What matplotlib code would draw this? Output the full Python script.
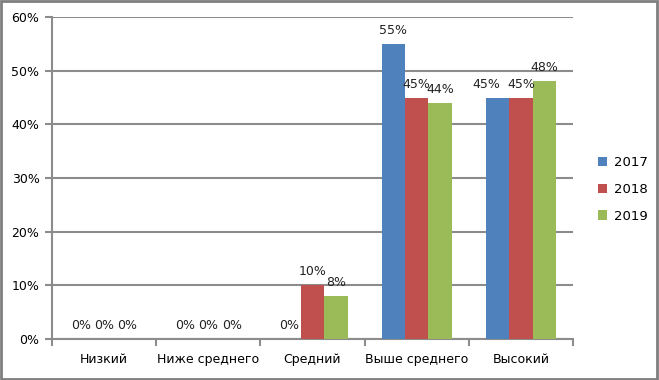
import numpy as np
import matplotlib.pyplot as plt
from matplotlib.patches import Rectangle

categories = ["Низкий", "Ниже среднего", "Средний", "Выше среднего", "Высокий"]
years = ["2017", "2018", "2019"]
values_2017 = [0, 0, 0, 55, 45]
values_2018 = [0, 0, 10, 45, 45]
values_2019 = [0, 0, 8, 44, 48]
colors = ['#4F81BD', '#C0504D', '#9BBB59']

plt.rcParams['font.family'] = ['DejaVu Sans']
fig = plt.figure(figsize=(6.59, 3.8), dpi=100)
ax = fig.add_axes([52 / 659, 1 - 339 / 380, (573 - 52) / 659, (339 - 17) / 380])

x = np.arange(len(categories))
width = 0.225
series = [values_2017, values_2018, values_2019]
# label nudges (points) where neighbouring labels would collide: (series, category)
nudges = {(0, 4): -8}
for i, (vals, year, col) in enumerate(zip(series, years, colors)):
    pos = x + (i - 1) * width
    bars = ax.bar(pos, vals, width, color=col, label=year, zorder=3)
    for j, (b, v) in enumerate(zip(bars, vals)):
        ax.annotate("{}%".format(v), (b.get_x() + b.get_width() / 2, v),
                    xytext=(nudges.get((i, j), 0), 5), textcoords='offset points',
                    ha='center', va='bottom', fontsize=9, color='#222222', zorder=4)

ax.set_xlim(-0.5, len(categories) - 0.5)
ax.set_ylim(0, 60)
ax.set_yticks(range(0, 61, 10))
ax.set_yticklabels(["{}%".format(t) for t in range(0, 61, 10)], fontsize=9)
ax.yaxis.grid(True, color='#8c8c8c', linewidth=1.5, zorder=0)
ax.set_axisbelow(True)

ax.set_xticks(x)
ax.set_xticklabels(categories, fontsize=9)
ax.tick_params(axis='x', length=0, pad=10)
ax.set_xticks(np.arange(-0.5, len(categories), 1), minor=True)
ax.tick_params(axis='x', which='minor', length=5, width=1.5, color='#8c8c8c', direction='out')
ax.tick_params(axis='y', length=5, width=1.5, color='#8c8c8c', direction='out', pad=4)

for s in ['top', 'right']:
    ax.spines[s].set_visible(False)
for s in ['left', 'bottom']:
    ax.spines[s].set_color('#8c8c8c')
    ax.spines[s].set_linewidth(1.5)

ax.legend(loc='center left', bbox_to_anchor=(1.025, 0.465), frameon=False, fontsize=9.5,
          handlelength=0.7, handleheight=0.7, labelspacing=1.05, handletextpad=0.5)

fig.patches.append(Rectangle((0.002, 0.003), 0.995, 0.994, transform=fig.transFigure,
                             fill=False, edgecolor='#7f7f7f', linewidth=2))

fig.savefig("out.png", dpi=100)
